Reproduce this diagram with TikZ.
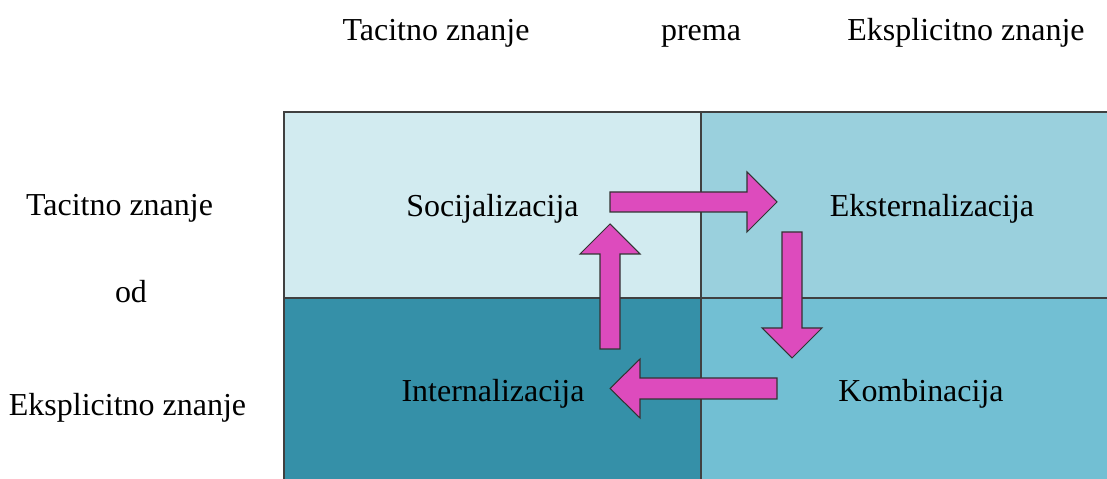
\documentclass[tikz,border=0pt]{standalone}
\usepackage{fontspec}
\setmainfont{Liberation Serif}
\usepackage{tikz}

\definecolor{cellTL}{HTML}{D2EBF0}
\definecolor{cellTR}{HTML}{9AD0DD}
\definecolor{cellBL}{HTML}{3590A8}
\definecolor{cellBR}{HTML}{72BFD3}
\definecolor{arrowfill}{HTML}{DD4BBD}

\tikzset{
  lbl/.style={font=\fontsize{18.2}{22}\selectfont, inner sep=0pt, anchor=base},
  blockarrow/.style={fill=arrowfill, draw=black!80, line width=0.6pt, line join=miter},
  cell/.style={draw=black!75, line width=0.8pt}
}

\begin{document}
\begin{tikzpicture}[x=0.02cm,y=-0.02cm]
        \useasboundingbox (0,0) rectangle (1107,479);
        % the four quadrants
        \fill[cellTL] (284,112) rectangle (701,298);
        \fill[cellTR] (701,112) rectangle (1107,298);
        \fill[cellBL] (284,298) rectangle (701,479);
        \fill[cellBR] (701,298) rectangle (1107,479);
        \draw[cell] (284,479) -- (284,112) -- (1107,112);
        \draw[cell] (701,112) -- (701,479);
        \draw[cell] (284,298) -- (1107,298);
        % headings
        \node[lbl] (tacitTop) at (436,41) {Tacitno znanje};
        \node[lbl] (prema) at (701,41) {prema};
        \node[lbl] (explTop) at (966,41) {Eksplicitno znanje};
        \node[lbl] (tacitLeft) at (119.5,216) {Tacitno znanje};
        \node[lbl] (od) at (131,303) {od};
        \node[lbl] (explLeft) at (127.5,416) {Eksplicitno znanje};
        % quadrant names
        \node[lbl] (soc) at (492.5,217) {Socijalizacija};
        \node[lbl] (ext) at (932,217) {Eksternalizacija};
        \node[lbl] (int) at (493,402) {Internalizacija};
        \node[lbl] (komb) at (921,402) {Kombinacija};
        % the cycle of block arrows
        \draw[blockarrow] (610,192) -- (747,192) -- (747,172) -- (777,202) -- (747,232) -- (747,212) -- (610,212) -- cycle;
        \draw[blockarrow] (782,232) -- (802,232) -- (802,328) -- (822,328) -- (792,358) -- (762,328) -- (782,328) -- cycle;
        \draw[blockarrow] (777,378) -- (777,399) -- (640,399) -- (640,418) -- (610,388.5) -- (640,359) -- (640,378) -- cycle;
        \draw[blockarrow] (600,349) -- (600,254) -- (580,254) -- (610,224) -- (640,254) -- (620,254) -- (620,349) -- cycle;
\end{tikzpicture}
\end{document}
